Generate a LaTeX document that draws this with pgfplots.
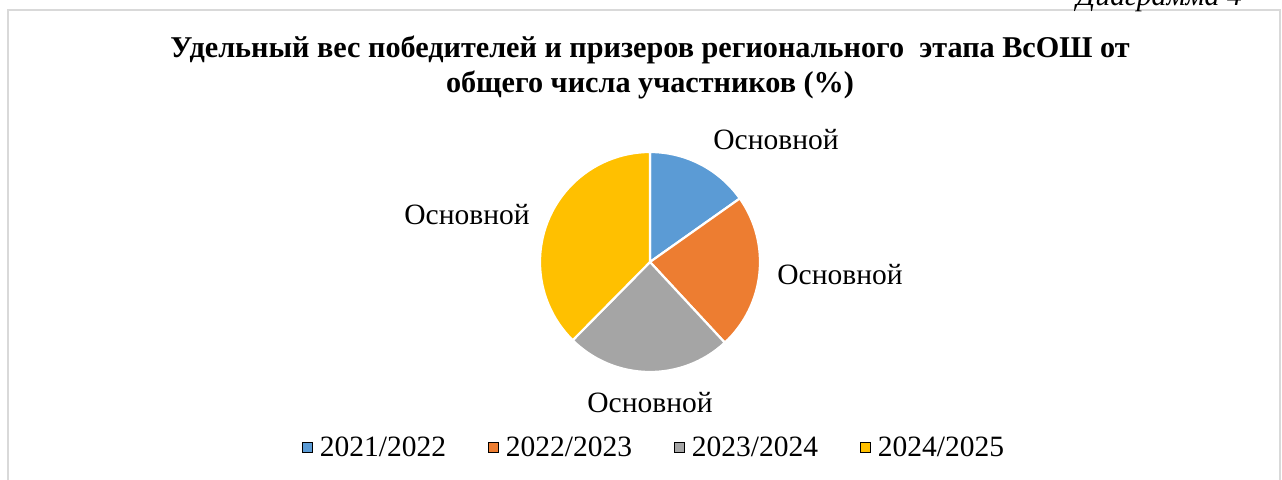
\documentclass[border=0pt]{standalone}
\usepackage{pgfplots}
\pgfplotsset{compat=1.18}
\usepackage{pgfplotstable}
\usepackage{fontspec}
\setmainfont{Liberation Serif}

\definecolor{c1}{HTML}{5B9BD5}
\definecolor{c2}{HTML}{ED7D31}
\definecolor{c3}{HTML}{A5A5A5}
\definecolor{c4}{HTML}{FFC000}
\definecolor{frame}{HTML}{D9D9D9}

% share of winners, percent
\pgfplotstableread{
season    share  col
2021/2022 15.2   c1
2022/2023 22.9   c2
2023/2024 24.3   c3
2024/2025 37.6   c4
}\sharetable

\begin{document}
\begin{tikzpicture}
\useasboundingbox (0,0) rectangle (641pt,239.5pt);
\begin{axis}[
    at={(0,0)}, anchor=south west,
    scale only axis,
    width=641pt, height=239.5pt,
    xmin=0, xmax=1282, ymin=0, ymax=479,
    hide axis, clip=false,
    legend columns=-1,
    legend style={draw=none, fill=none, at={(0.511,0.065)}, anchor=center,
        font=\fontsize{14.75}{17}\selectfont,
        /tikz/every even column/.append style={column sep=19pt}},
    legend image code/.code={\fill[#1] (0pt,-2.5pt) rectangle (5pt,2.5pt);
        \path (6.5pt,0pt);},
]
% chart frame, cut by the page
\draw[frame, line width=0.8pt] (8,-20) -- (8,469) -- (1280,469) -- (1280,-20);

\pgfmathsetmacro{\startang}{90}
\pgfplotsforeachungrouped \i in {0,...,3}{
    \pgfplotstablegetelem{\i}{share}\of\sharetable \let\val\pgfplotsretval
    \pgfplotstablegetelem{\i}{col}\of\sharetable \let\col\pgfplotsretval
    \pgfmathsetmacro{\endang}{\startang-3.6*\val}
    \edef\slice{\noexpand\fill[\col, draw=white, line width=1.1pt]
        (axis cs:650,217) -- ++(\startang:55pt)
        arc[start angle=\startang, end angle=\endang, radius=55pt] -- cycle;}
    \slice
    \let\startang\endang
}

\addlegendimage{fill=c1}
\addlegendimage{fill=c2}
\addlegendimage{fill=c3}
\addlegendimage{fill=c4}
\legend{2021/2022,2022/2023,2023/2024,2024/2025}

\node[font=\fontsize{15.1}{17.5}\selectfont\bfseries, align=center]
    at (axis cs:650,412) {Удельный вес победителей и призеров регионального\ \ этапа ВсОШ от\\общего числа участников (\%)};
\node[font=\fontsize{14.9}{17}\selectfont\itshape, anchor=base east]
    at (axis cs:1249,474) {Диаграмма 4};

\node[font=\fontsize{14.75}{17}\selectfont] at (axis cs:776,339) {Основной};
\node[font=\fontsize{14.75}{17}\selectfont] at (axis cs:840,204) {Основной};
\node[font=\fontsize{14.75}{17}\selectfont] at (axis cs:650,76) {Основной};
\node[font=\fontsize{14.75}{17}\selectfont] at (axis cs:467,264) {Основной};
\end{axis}
\end{tikzpicture}
\end{document}
